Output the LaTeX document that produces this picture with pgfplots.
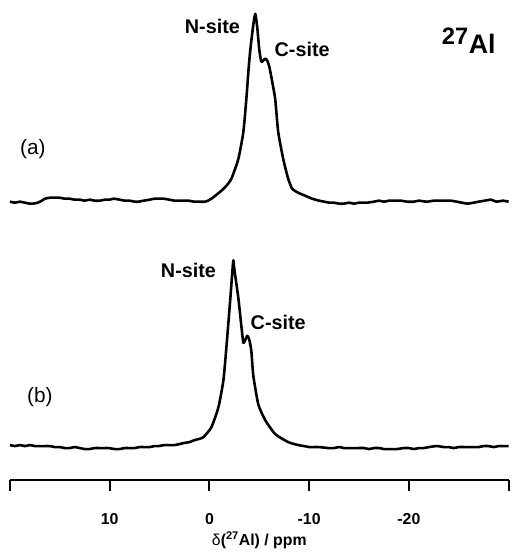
\documentclass[border=0pt]{standalone}
\usepackage{pgfplots}
\pgfplotsset{compat=1.18}
\usepackage{fontspec}
\setmainfont{Liberation Sans}
\begin{document}
\begin{tikzpicture}
\begin{axis}[
  scale only axis, width=502bp, height=483bp,
  xmin=-30, xmax=20, x dir=reverse,
  ymin=0, ymax=483,
  axis x line=bottom, axis y line=none,
  x axis line style={-, line width=2bp},
  xtick={20,10,0,-10,-20,-30},
  xticklabels={,10,0,-10,-20,},
  xtick align=outside,
  major tick length=11bp,
  every tick/.style={line width=2bp, black},
  xticklabel style={font=\bfseries\fontsize{16}{18}\selectfont, anchor=base, yshift=-34bp},
  xlabel={\bfseries{\mdseries δ}(\textsuperscript{27}Al) / ppm},
  xlabel style={font=\fontsize{16}{18}\selectfont, at={(axis description cs:0.5,0)}, anchor=base, yshift=-66bp},
  clip=false,
]
\addplot[black, line width=2.6bp, line join=round, smooth, tension=0.35] coordinates {
(20,280)(19.5,279)(19,280)(18.5,279)(18,278)(17.7,278)(17.2,279)(16.8,281)(16.5,283)(16,284)(15.5,284)(15,284)(14.5,283)(14,283)(13.5,282)(13,282)(12.5,281)(12,282)(11.5,281)(11,281)(10.5,282)(10,282)(9.6,283)(9,282)(8.5,281)(8,281)(7.5,280)(7.1,280)(6.6,281)(6,282)(5.5,283)(5,283)(4.6,283)(4,282)(3.5,281)(3,281)(2.5,281)(2.1,281)(1.5,280)(1,280)(0.4,280)
(-0.2,283)(-1.2,291)(-1.7,296)(-2.2,303)(-2.9,323)(-3.4,350)(-3.7,383)(-3.9,410)(-4.1,433)(-4.4,458)(-4.6,469)(-4.8,455)(-5.0,433)(-5.2,421)(-5.4,422)(-5.6,424)(-5.8,422)(-6.0,416)(-6.2,406)(-6.4,395)(-6.6,383)(-6.9,350)(-7.4,323)(-7.9,303)(-8.3,293)(-8.9,289)(-9.6,286)(-10.3,283)
(-11,281)(-11.5,280)(-12,279)(-12.5,279)(-13,278)(-13.5,278)(-14,279)(-14.5,278)(-15,279)(-15.8,279)(-16.5,280)(-17,281)(-17.5,280)(-18,281)(-18.5,281)(-19.2,281)(-19.8,280)(-20.5,280)(-21,281)(-21.8,280)(-22.5,281)(-23,281)(-23.5,281)(-24.2,281)(-24.8,280)(-25.3,279)(-25.9,278)(-26.5,279)(-27,280)(-27.6,281)(-28.2,282)(-28.8,280)(-29.4,281)(-30,280)
};
\addplot[black, line width=2.6bp, line join=round, smooth, tension=0.35] coordinates {
(20,35)(19.5,34)(19,35)(18.5,34)(18,35)(17.5,34)(17,34)(16.5,34)(16,34)(15.5,33)(15,33)(14.5,32)(14,32)(13.5,33)(13,32)(12.5,31)(12,31)(11.5,32)(11,32)(10.5,32)(10.1,32)(9.5,31)(9,31)(8.5,32)(8.1,32)(7.5,32)(7,33)(6.5,33)(6,33)(5.5,34)(5.1,34)(4.5,35)(4,35)(3.5,35)(3,36)(2.6,37)(2,38)(1.5,40)(1.1,41)(0.6,43)
(-0.2,53)(-0.9,73)(-1.4,100)(-1.7,133)(-2.1,183)(-2.3,210)(-2.4,221)(-2.5,212)(-2.9,183)(-3.2,155)(-3.4,138)(-3.6,141)(-3.8,145)(-4.0,141)(-4.2,130)(-4.4,105)(-4.9,76)(-5.6,60)(-6.6,46)(-7.9,38)(-8.9,35)
(-9.5,34)(-10,33)(-10.5,33)(-11,33)(-11.9,32)(-12.5,32)(-13,33)(-13.5,32)(-14,32)(-14.8,32)(-15.5,32)(-16,31)(-16.5,32)(-17,32)(-17.5,31)(-18,31)(-18.8,31)(-19.5,32)(-20,32)(-20.5,31)(-21,32)(-21.5,32)(-22,33)(-22.8,34)(-23.5,33)(-24,33)(-24.5,32)(-25,33)(-25.8,33)(-26.5,33)(-27,33)(-27.5,34)(-28,34)(-28.5,33)(-29,34)(-29.5,34)(-30,34)
};
\path (axis cs:20.996,-69) rectangle (axis cs:-30.2,483);
\node[font=\bfseries\fontsize{20}{22}\selectfont] at (axis cs:-0.3,456) {N-site};
\node[font=\bfseries\fontsize{20}{22}\selectfont] at (axis cs:-9.3,433) {C-site};
\node[font=\bfseries\fontsize{20}{22}\selectfont] at (axis cs:2.1,211) {N-site};
\node[font=\bfseries\fontsize{20}{22}\selectfont] at (axis cs:-6.9,158) {C-site};
\node[font=\bfseries\fontsize{27}{30}\selectfont] at (axis cs:-26,442) {\textsuperscript{\fontsize{24}{26}\selectfont 27}Al};
\node[font=\fontsize{21}{24}\selectfont] at (axis cs:17.7,333) {(a)};
\node[font=\fontsize{21}{24}\selectfont] at (axis cs:17.0,83) {(b)};
\end{axis}
\end{tikzpicture}
\end{document}
